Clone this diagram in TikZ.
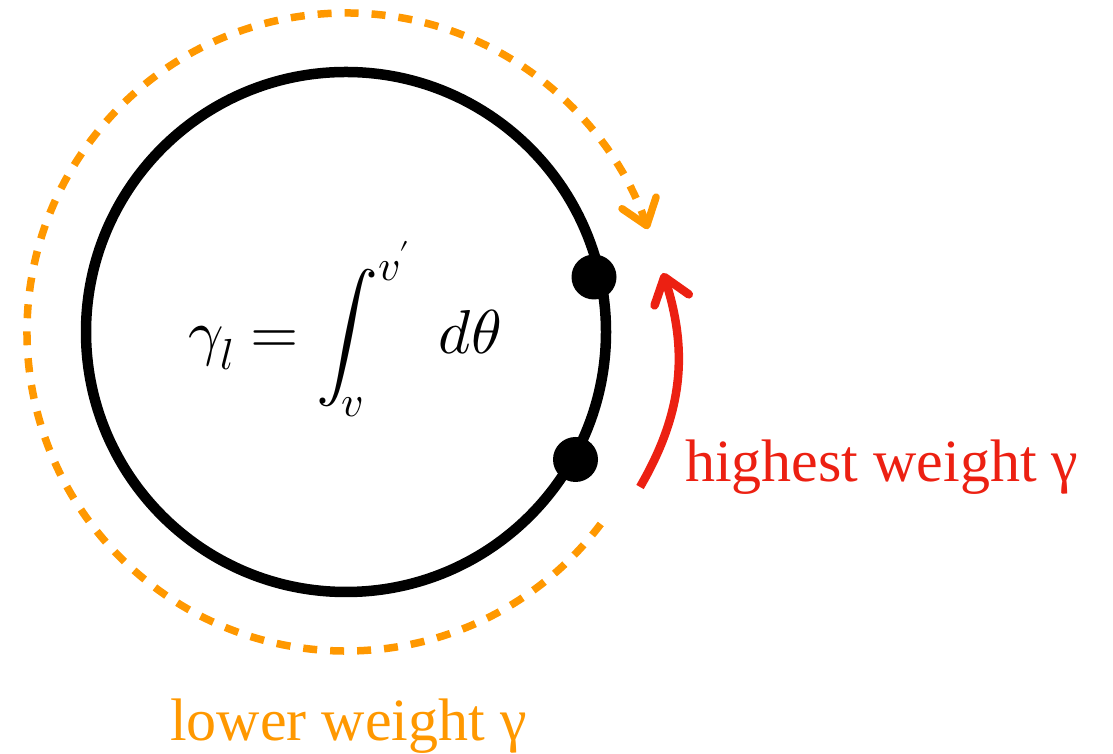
\documentclass[tikz,border=0pt]{standalone}
\usepackage{fontspec}
\setmainfont{Liberation Serif}
\newfontfamily\lserif{Liberation Serif}
\usepackage{unicode-math}
\setmathfont{Latin Modern Math}
\usetikzlibrary{arrows.meta,calc}
\definecolor{myorange}{RGB}{255,152,0}
\definecolor{myred}{RGB}{236,32,18}
\tikzset{
  ring/.style={draw=black, line width=10.5pt},
  dotnode/.style={circle, fill=black, minimum size=45pt, inner sep=0pt},
  orangearc/.style={draw=myorange, line width=7.5pt, dash pattern=on 14pt off 13pt,
    -{Straight Barb[length=24pt, width=36pt, line cap=round, line join=round]}},
  redarc/.style={draw=myred, line width=8.5pt,
    -{Straight Barb[length=24pt, width=36pt, line cap=round, line join=round]}},
  lbl/.style={inner sep=0pt, anchor=base west, font=\lserif\fontsize{60}{70}\selectfont}
}
\begin{document}
\begin{tikzpicture}[x=1pt,y=1pt]
\useasboundingbox (0,0) rectangle (1113,754);
\coordinate (C) at (346,422);
% main circle
\draw[ring] (C) circle[radius=260];
% dots
\node[dotnode] (d1) at (594,477) {};
\node[dotnode] (d2) at (575.5,294.5) {};
% formula
\node[inner sep=0pt, anchor=base] (f) at (345,400)
  {\fontsize{62}{74}\selectfont $\displaystyle \gamma_l = \int_v^{v'} \; d\theta$};
% orange dashed arc
\coordinate (os) at ($(C)+(-37:319)$);
\draw[orangearc] (os) arc[start angle=-37, end angle=-341.2, radius=319];
% red arc
\coordinate (rs) at (640,267);
\coordinate (re) at (663,481);
\draw[redarc] (rs) to[bend right=24] (re);
% labels
\node[lbl, text=myred] (hw) at (685,272) {highest weight γ};
\node[lbl, text=myorange] (lw) at (170,13) {lower weight γ};
\end{tikzpicture}
\end{document}
